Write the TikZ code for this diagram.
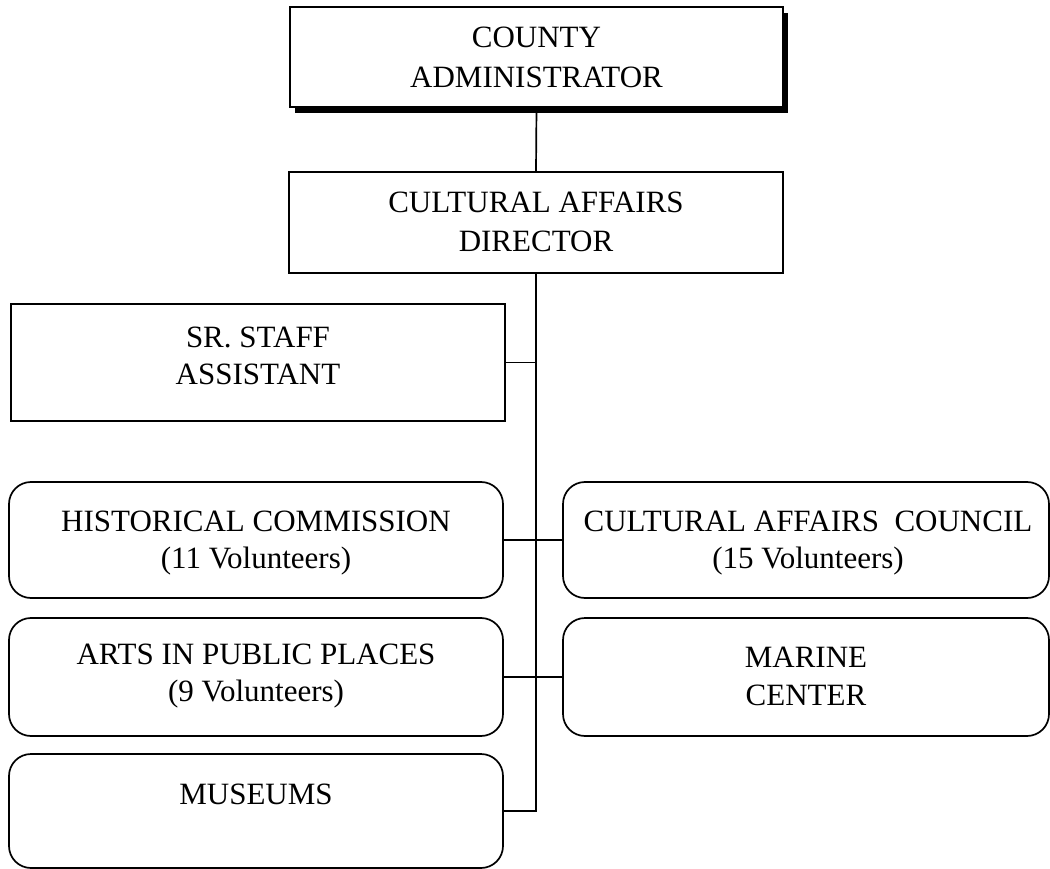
\documentclass[tikz,border=0pt]{standalone}
\usepackage{fontspec}
\setmainfont{Liberation Serif}
\usetikzlibrary{shadows}
\begin{document}
\begin{tikzpicture}[x=1pt,y=-1pt,
  box/.style={draw, line width=1.7pt, inner sep=0pt, fill=white},
  sqbox/.style={box},
  rbox/.style={box, rounded corners=22pt},
  lbl/.style={anchor=base, inner sep=0pt, font=\fontsize{31}{38}\selectfont},
  link/.style={line width=1.7pt}]
\useasboundingbox (0,0) rectangle (1050,869);

% boxes
\node[sqbox, minimum width=493pt, minimum height=100pt,
      drop shadow={shadow xshift=5pt, shadow yshift=-6pt, opacity=1, fill=black}]
      (county) at (536.5,57) {};
\node[sqbox, minimum width=494pt, minimum height=101pt] (director) at (536,222.5) {};
\node[sqbox, minimum width=494pt, minimum height=117pt] (staff) at (258,362.5) {};
\node[rbox, minimum width=494pt, minimum height=116pt] (hist) at (256,540) {};
\node[rbox, minimum width=486pt, minimum height=116pt] (council) at (806,540) {};
\node[rbox, minimum width=494pt, minimum height=118pt] (arts) at (256,677) {};
\node[rbox, minimum width=486pt, minimum height=118pt] (marine) at (806,677) {};
\node[rbox, minimum width=494pt, minimum height=114pt] (museums) at (256,811) {};

% labels
\node[lbl] (county-a) at (536.5,48) {COUNTY};
\node[lbl] (county-b) at (536.5,88) {ADMINISTRATOR};
\node[lbl] (director-a) at (536,213) {CULTURAL AFFAIRS};
\node[lbl] (director-b) at (536,252) {DIRECTOR};
\node[lbl] (staff-a) at (258,347) {SR. STAFF};
\node[lbl] (staff-b) at (258,384) {ASSISTANT};
\node[lbl] (hist-a) at (256,531) {HISTORICAL COMMISSION};
\node[lbl] (hist-b) at (256,568) {(11 Volunteers)};
\node[lbl] (council-a) at (808,531) {CULTURAL AFFAIRS\ \ COUNCIL};
\node[lbl] (council-b) at (808,568) {(15 Volunteers)};
\node[lbl] (arts-a) at (256,664) {ARTS IN PUBLIC PLACES};
\node[lbl] (arts-b) at (256,701) {(9 Volunteers)};
\node[lbl] (marine-a) at (806,667) {MARINE};
\node[lbl] (marine-b) at (806,705) {CENTER};
\node[lbl] (museums-a) at (256,804) {MUSEUMS};

% connectors
\coordinate (trunkend) at (director.south |- museums.east);
\draw[link] (county.south) -- (director.north);
\draw[link] (director.south) -- (trunkend) -- (museums.east);
\draw[link] (staff.east) -- (staff.east -| director.south);
\draw[link] (hist.east) -- (council.west);
\draw[link] (arts.east) -- (marine.west);
\end{tikzpicture}
\end{document}
